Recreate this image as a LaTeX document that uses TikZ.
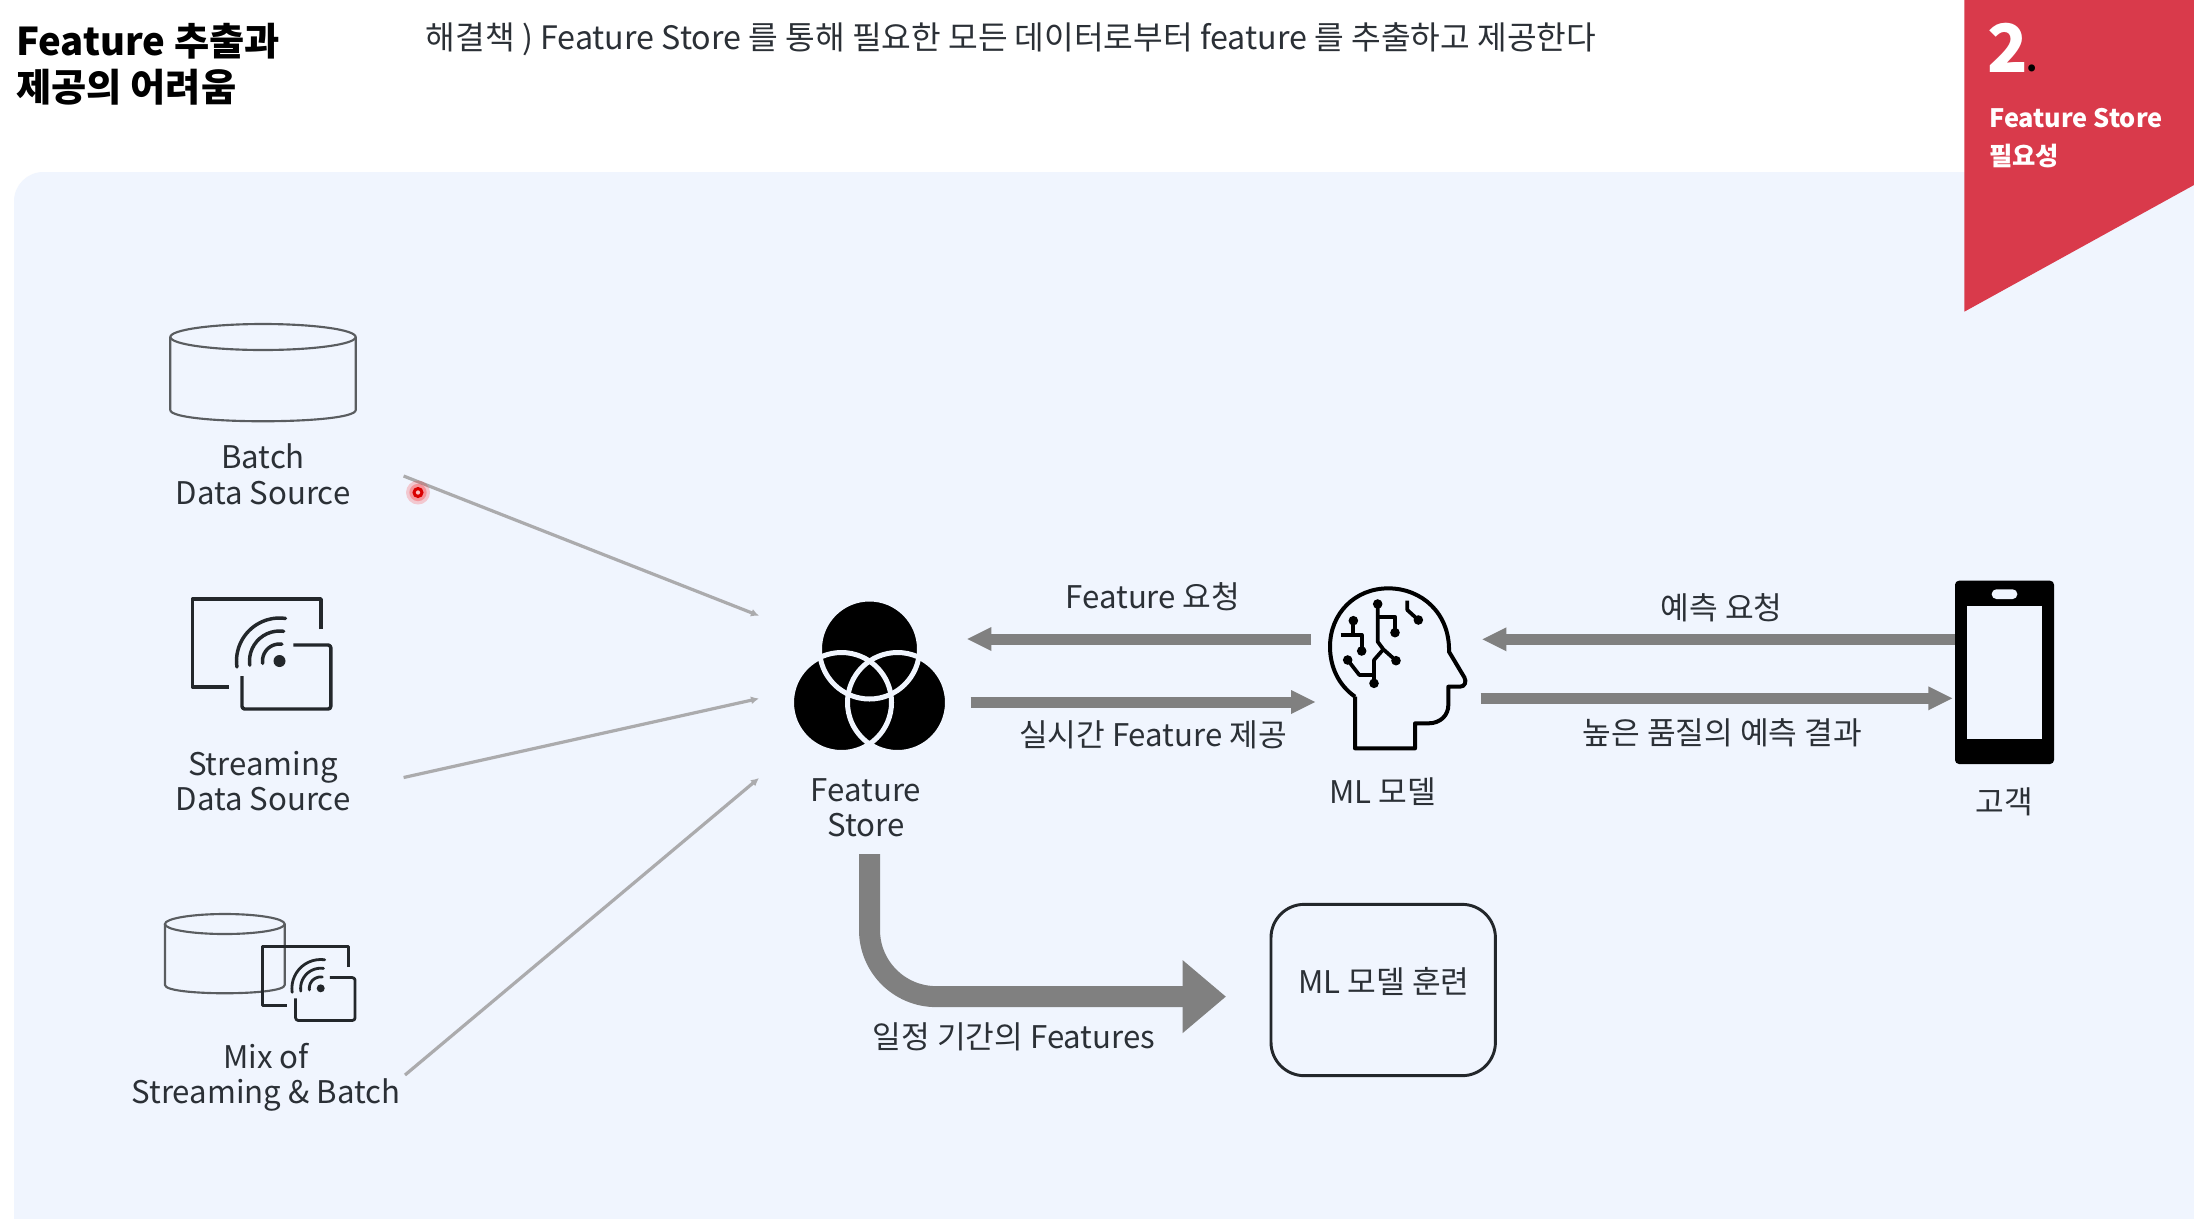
\documentclass[tikz,border=0pt]{standalone}
\usepackage{fontspec}
\setmainfont{Noto Sans CJK KR}
\usetikzlibrary{arrows.meta}
\definecolor{panelbg}{HTML}{F0F5FE}
\definecolor{badgered}{HTML}{D93A4B}
\definecolor{txt}{HTML}{2B3036}
\definecolor{thick}{HTML}{808080}
\definecolor{thin}{HTML}{ABABAD}
\definecolor{cyl}{HTML}{5A5D60}
\definecolor{ico}{HTML}{23272B}
\tikzset{
  lbl/.style={inner sep=0pt,text=txt,align=center,font=\fontsize{23.4}{26.6}\selectfont},
  feedarrow/.style={draw=thin,line width=2.4pt,-{Latex[length=6pt,width=6pt]}},
  flowarrow/.style={draw=thick,line width=8.25pt,-{Triangle[length=18.5pt,width=16.5pt]}},
  cylline/.style={draw=cyl,line width=1.6pt},
  iconline/.style={draw=ico,line width=#1,line join=round},
  headline/.style={draw=black,line width=3pt,line join=round},
  circuit/.style={draw=black,line width=2.8pt,line join=round}
}
\newcommand{\wifiicon}[5]{% x y scale linewidth dotradius(pt)
\begin{scope}[shift={(#1,#2)},x=#3*0.75pt,y=-#3*0.75pt]
  \draw[iconline=#4] (41.5,-31.6) -- (41.5,-62) -- (-87.1,-62) -- (-87.1,26) -- (-50.9,26);
  \draw[iconline=#4,rounded corners=2pt] (13.8,-16) -- (51.3,-16) -- (51.3,48) -- (-37.5,48) -- (-37.5,15);
  \foreach \rr in {17,30,43}{
    \draw[iconline=#4,line cap=round] plot[domain=82:188,samples=14,smooth] ({\rr*cos(\x)},{-\rr*sin(\x)});
  }
  \fill[ico] (0,0) circle [radius=#5];
\end{scope}}
\begin{document}
\begin{tikzpicture}[x=0.75pt,y=-0.75pt]
\useasboundingbox (0,0) rectangle (2194,1218);
\fill[white] (0,0) rectangle (2194,1218);
% panel
\fill[panelbg,rounded corners=22pt] (14,172) rectangle (2260,1300);
% badge
\fill[badgered] (1964.3,0) -- (2194,0) -- (2194,185) -- (1964.3,311.7) -- cycle;
\node[inner sep=0pt,anchor=center,text=white,font=\fontsize{50}{50}\selectfont\bfseries] (badgenum) at (2008,47.5) {2};
\node[inner sep=0pt,anchor=base,text=black,font=\fontsize{24}{24}\selectfont\bfseries] (badgedot) at (2032.3,71) {.};
\node[inner sep=0pt,anchor=west,text=white,align=left,font=\fontsize{19}{28.5}\selectfont\bfseries] (badgetext) at (1989,138.5) {Feature Store\\필요성};
% titles
\node[inner sep=0pt,anchor=west,text=black,align=left,font=\fontsize{28.7}{34.5}\selectfont\bfseries] (title) at (16,64) {Feature 추출과\\제공의 어려움};
\node[inner sep=0pt,anchor=west,text=txt,font=\fontsize{24.2}{30}\selectfont] (subtitle) at (425.6,39.5) {해결책 ) Feature Store 를 통해 필요한 모든 데이터로부터 feature 를 추출하고 제공한다};
% batch cylinder
\draw[cylline] (263,337) circle [x radius=69.5pt,y radius=9.75pt];
\draw[cylline] (170.3,337) -- (170.3,410) .. controls (170.3,425) and (355.7,425) .. (355.7,410) -- (355.7,337);
\node[lbl] (batch) at (263,474.5) {Batch\\Data Source};
% streaming icon
\wifiicon{279.5}{661}{1}{2.6pt}{4.5pt}
\node[lbl] (stream) at (263,781) {Streaming\\Data Source};
% mix icon
\draw[cylline] (224.8,924) circle [x radius=44.9pt,y radius=7.5pt];
\draw[cylline] (165,924) -- (165,985) .. controls (165,996) and (284.7,996) .. (284.7,985) -- (284.7,924);
\wifiicon{320.7}{988.3}{0.67}{2.1pt}{3pt}
\node[lbl] (mix) at (266,1077) {Mix of\\Streaming \& Batch};
% feed connectors
\coordinate (batchout) at (403.6,476);
\coordinate (streamout) at (403.6,777.5);
\coordinate (mixout) at (405,1075);
\coordinate (fsin1) at (759,615.7);
\coordinate (fsin2) at (759,698.5);
\coordinate (fsin3) at (759,778);
\draw[feedarrow] (batchout) -- (fsin1);
\draw[feedarrow] (streamout) -- (fsin2);
\draw[feedarrow] (mixout) -- (fsin3);
% pointer
\fill[red,opacity=.18] (418,492.5) circle [radius=9pt];
\fill[red,opacity=.25] (418,492.5) circle [radius=6.5pt];
\fill[red!85!black] (418,492.5) circle [radius=4.2pt];
\fill[red!25] (418,492.5) circle [radius=1.6pt];
% feature store icon
\fill[black] (869.5,649) circle [radius=37.5pt];
\fill[black] (841.5,702.5) circle [radius=37.5pt];
\fill[black] (897.5,702.5) circle [radius=37.5pt];
\draw[panelbg,line width=3.75pt] (869.5,649) circle [radius=37.5pt];
\draw[panelbg,line width=3.75pt] (841.5,702.5) circle [radius=37.5pt];
\draw[panelbg,line width=3.75pt] (897.5,702.5) circle [radius=37.5pt];
\node[lbl] (fs) at (866,807.5) {Feature\\Store};
% ML head icon
\begin{scope}[shift={(1300,570)},x=0.25pt,y=-0.25pt]
  \draw[headline] (165,380) -- (165,535) -- (345,535) -- (345,460) -- (385,460)
     .. controls (422,460) and (445,435) .. (445,405) -- (445,350) -- (480,350)
     .. controls (495,350) and (500,335) .. (493,322) -- (447,245)
     .. controls (450,130) and (365,55) .. (265,55)
     .. controls (165,55) and (90,130) .. (90,230)
     .. controls (90,290) and (115,345) .. (165,380);
  \draw[circuit] (233,102) -- (233,215) -- (250,238) -- (288,272);
  \draw[circuit] (233,140) -- (285,140) -- (285,188);
  \draw[circuit] (250,238) -- (222,270) -- (222,340);
  \draw[circuit] (222,315) -- (178,315) -- (143,270);
  \draw[circuit] (160,152) -- (160,195);
  \draw[circuit] (122,195) -- (185,195) -- (185,243);
  \draw[circuit] (322,92) -- (322,120) -- (355,150);
  \foreach \p in {(233,102),(288,272),(285,188),(222,340),(143,270),(160,152),(185,243),(355,150)}
    \fill[black] \p circle [radius=3.6pt];
\end{scope}
\node[lbl] (ml) at (1382.6,791.7) {ML 모델};
% phone
\fill[black,rounded corners=3pt] (1955,580.7) rectangle (2054,764);
\fill[panelbg] (1967.3,606) rectangle (2041.7,739);
\fill[panelbg,rounded corners=3.5pt] (1991.7,589.3) rectangle (2017.3,599);
\node[lbl] (cust) at (2004.4,801.7) {고객};
% flow arrows
\coordinate (reqA) at (1311,639);
\coordinate (reqB) at (966.7,639);
\coordinate (serveA) at (970.5,702);
\coordinate (serveB) at (1315.7,702);
\coordinate (predA) at (1955,639.3);
\coordinate (predB) at (1481.7,639.3);
\coordinate (resA) at (1480.7,698.3);
\coordinate (resB) at (1953,698.3);
\draw[flowarrow] (reqA) -- (reqB);
\draw[flowarrow] (serveA) -- (serveB);
\draw[flowarrow] (predA) -- (predB);
\draw[flowarrow] (resA) -- (resB);
\node[lbl] (reqlbl) at (1153,596.7) {Feature 요청};
\node[lbl] (servelbl) at (1153,735) {실시간 Feature 제공};
\node[lbl] (predlbl) at (1721.7,607.5) {예측 요청};
\node[lbl] (reslbl) at (1722.3,732.7) {높은 품질의 예측 결과};
% training
\node[draw=ico,line width=2.2pt,rounded corners=25pt,minimum width=168.3pt,minimum height=128.5pt,inner sep=0pt] (train) at (1383.2,990) {};
\node[lbl] (trainlbl) at (1384,981.5) {ML 모델 훈련};
\coordinate (histstart) at (869.5,854);
\coordinate (histend) at (1226,996.6);
\draw[draw=thick,line width=15.75pt,rounded corners=50pt,-{Triangle[length=32.5pt,width=52.5pt]}] (histstart) |- (histend);
\node[lbl] (histlbl) at (1014,1037) {일정 기간의 Features};
\end{tikzpicture}
\end{document}
